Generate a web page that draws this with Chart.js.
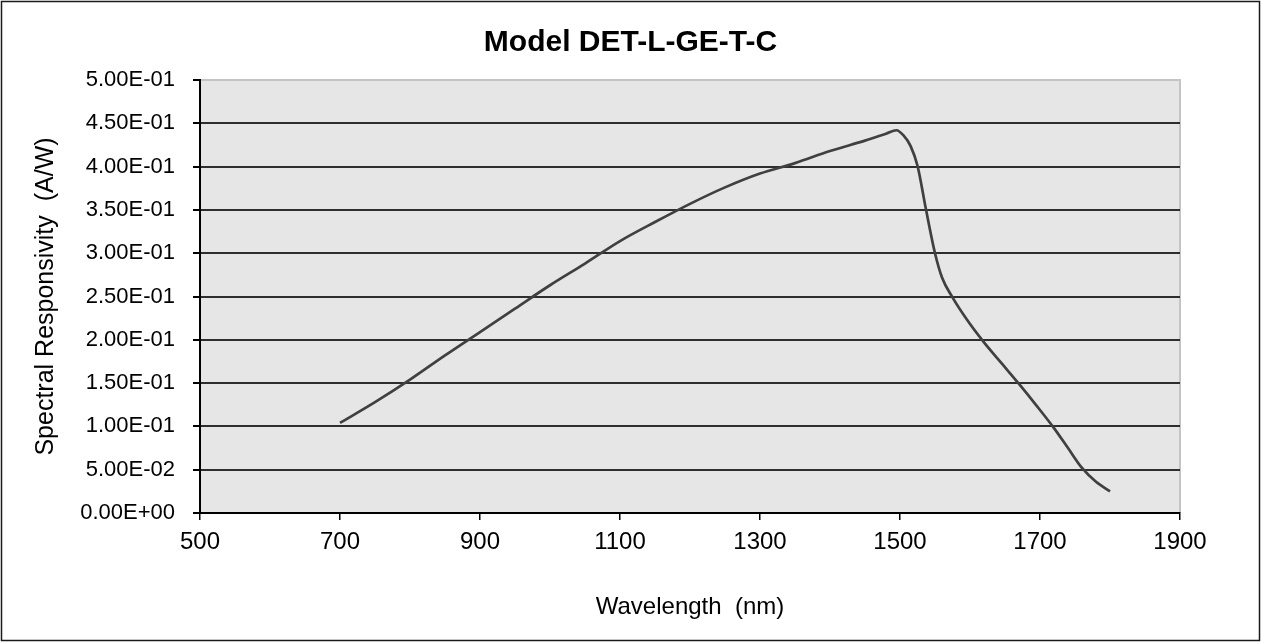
<!DOCTYPE html>
<html>
<head>
<meta charset="utf-8">
<script src="https://cdn.jsdelivr.net/npm/chart.js@4.4.1/dist/chart.umd.min.js"></script>
<style>
  html, body { margin: 0; padding: 0; background: #fff; }
  #wrap { width: 1261px; height: 642px; position: relative; }
</style>
</head>
<body>
<div id="wrap"><canvas id="c"></canvas></div>
<script>
const chartTitle = 'Model DET-L-GE-T-C';
const xAxisTitle = 'Wavelength  (nm)';
const yAxisTitle = 'Spectral Responsivity  (A/W)';

const wavelengths = [700, 750, 800, 850, 900, 950, 1000, 1050, 1100, 1150, 1200, 1250, 1300, 1350, 1400, 1450, 1480, 1495, 1505, 1515, 1525, 1537, 1550, 1560, 1575, 1595, 1620, 1645, 1670, 1695, 1720, 1740, 1760, 1780, 1800];
const responsivity = [0.104, 0.128, 0.154, 0.182, 0.209, 0.236, 0.263, 0.288, 0.314, 0.336, 0.357, 0.376, 0.392, 0.404, 0.418, 0.430, 0.438, 0.442, 0.436, 0.424, 0.401, 0.351, 0.300, 0.272, 0.249, 0.224, 0.197, 0.173, 0.149, 0.124, 0.098, 0.075, 0.052, 0.036, 0.025];

const xTickValues = [500, 700, 900, 1100, 1300, 1500, 1700, 1900];
const xTickLabels = ['500', '700', '900', '1100', '1300', '1500', '1700', '1900'];
const yTickValues = [0, 0.05, 0.10, 0.15, 0.20, 0.25, 0.30, 0.35, 0.40, 0.45, 0.50];
const yTickLabels = ['0.00E+00', '5.00E-02', '1.00E-01', '1.50E-01', '2.00E-01', '2.50E-01', '3.00E-01', '3.50E-01', '4.00E-01', '4.50E-01', '5.00E-01'];

const points = wavelengths.map((w, i) => ({ x: w, y: responsivity[i] }));
const FONT = "'Liberation Sans', Arial, sans-serif";

const framePlugin = {
  id: 'frame',
  beforeDraw(chart) {
    const { ctx, chartArea: a } = chart;
    ctx.save();
    ctx.fillStyle = '#ffffff';
    ctx.fillRect(0, 0, chart.width, chart.height);
    ctx.fillStyle = '#e6e6e6';
    ctx.fillRect(a.left, a.top, a.right - a.left, a.bottom - a.top);
    ctx.strokeStyle = '#c4c4c4';
    ctx.lineWidth = 2;
    ctx.beginPath();
    ctx.moveTo(a.left, a.top);
    ctx.lineTo(a.right, a.top);
    ctx.lineTo(a.right, a.bottom);
    ctx.stroke();
    ctx.strokeStyle = '#1a1a1a';
    ctx.lineWidth = 1.5;
    ctx.strokeRect(1.5, 1.5, chart.width - 3, chart.height - 3);
    ctx.restore();
  }
};

new Chart(document.getElementById('c'), {
  type: 'line',
  data: {
    datasets: [{
      data: points,
      borderColor: '#404040',
      borderWidth: 2.7,
      pointRadius: 0,
      fill: false,
      cubicInterpolationMode: 'monotone',
      tension: 0.4
    }]
  },
  options: {
    responsive: true,
    maintainAspectRatio: false,
    animation: false,
    layout: { padding: 0 },
    plugins: {
      legend: { display: false },
      tooltip: { enabled: false },
      title: {
        display: true,
        text: chartTitle,
        color: '#000',
        font: { family: FONT, size: 30, weight: 'bold' },
        padding: { top: 25, bottom: 19 }
      }
    },
    scales: {
      x: {
        type: 'linear',
        min: 500,
        max: 1900,
        afterBuildTicks: s => { s.ticks = xTickValues.map(v => ({ value: v })); },
        afterFit: s => { s.height = 129; },
        ticks: {
          color: '#000',
          font: { family: FONT, size: 24 },
          padding: 8,
          maxRotation: 0,
          autoSkip: false,
          callback: (v, i) => xTickLabels[i]
        },
        grid: { drawOnChartArea: false, drawTicks: true, tickLength: 7, tickColor: '#000', lineWidth: 1.5 },
        border: { display: true, color: '#000', width: 2 },
        title: {
          display: true,
          text: xAxisTitle,
          color: '#000',
          font: { family: FONT, size: 24 },
          padding: { top: 0, bottom: 20 }
        }
      },
      y: {
        type: 'linear',
        min: 0,
        max: 0.5,
        afterBuildTicks: s => { s.ticks = yTickValues.map(v => ({ value: v })); },
        afterFit: s => { s.width = 200; },
        ticks: {
          color: '#000',
          font: { family: FONT, size: 22 },
          padding: 18,
          autoSkip: false,
          callback: (v, i) => yTickLabels[i]
        },
        grid: {
          drawTicks: true,
          tickLength: 7,
          tickColor: '#000',
          lineWidth: 2,
          color: c => (c.tick && c.tick.value === 0.5) ? 'rgba(0,0,0,0)' : '#2e2e2e'
        },
        border: { display: true, color: '#000', width: 2 },
        title: {
          display: true,
          text: yAxisTitle,
          color: '#000',
          font: { family: FONT, size: 25 },
          padding: { top: 31, bottom: 0 }
        }
      },
      yRight: {
        type: 'linear',
        position: 'right',
        display: true,
        afterFit: s => { s.width = 81; },
        ticks: { display: false },
        grid: { display: false, drawOnChartArea: false },
        border: { display: false }
      }
    }
  },
  plugins: [framePlugin]
});
</script>
</body>
</html>
